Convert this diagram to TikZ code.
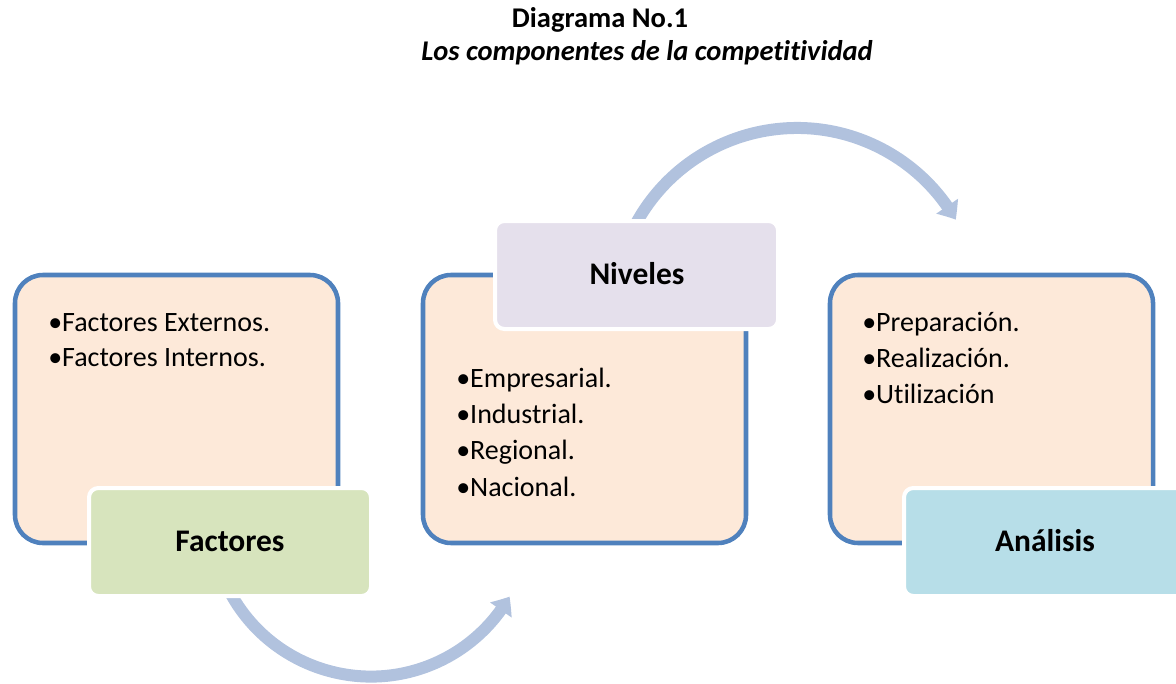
\documentclass[tikz,border=0pt]{standalone}
\usepackage{fontspec}
\setmainfont{Carlito}[RawFeature={-liga}]
\usetikzlibrary{arrows.meta,bending}

\definecolor{frameblue}{HTML}{4F81BD}
\definecolor{peach}{HTML}{FDE9D9}
\definecolor{leafgreen}{HTML}{D7E4BD}
\definecolor{lavender}{HTML}{E5E0EC}
\definecolor{iceblue}{HTML}{B7DEE8}
\definecolor{arcblue}{HTML}{B1C2DE}

\tikzset{
  contentbox/.style={draw=frameblue, fill=peach, line width=3.4pt, rounded corners=21pt},
  labelbox/.style={draw=white, line width=3pt, rounded corners=7pt},
  itemtext/.style={anchor=base west, inner sep=0pt, font=\fontsize{21}{25}\selectfont},
  labeltext/.style={anchor=base, inner sep=0pt, font=\fontsize{23.6}{28}\selectfont\bfseries},
  flowarc/.style={draw=arcblue, line width=9pt, -{Triangle[width=19pt,length=12pt,bend]}},
}

\begin{document}
\begin{tikzpicture}[x=0.75pt, y=-0.75pt]
\useasboundingbox (0,0) rectangle (1176,684);
\clip (0,0) rectangle (1176,684);

% title
\node[anchor=base, inner sep=0pt, font=\fontsize{21.4}{25}\selectfont\bfseries] (title) at (600,28) {Diagrama No.1};
\node[anchor=base, inner sep=0pt, font=\fontsize{21.4}{25}\selectfont\bfseries\itshape] (subtitle) at (647,61) {Los componentes de la competitividad};

% curved connectors, drawn first so the label boxes cover their tails
\coordinate (arcAstart) at (228.4,589.2);
\coordinate (arcBstart) at (633.6,228.1);
\draw[flowarc] (arcAstart) arc[start angle=-153, end angle=-30, radius=120pt];
\draw[flowarc] (arcBstart) arc[start angle=153, end angle=30, radius=137.5pt];

% content boxes
\draw[contentbox] (15,275) rectangle (338,543);
\draw[contentbox] (423,275) rectangle (746,543);
\draw[contentbox] (830,275) rectangle (1153,543);

% label boxes
\path[labelbox, fill=leafgreen] (89,488) rectangle (371,596);
\path[labelbox, fill=lavender] (495,221) rectangle (778,329);
\path[labelbox, fill=iceblue] (904,488) rectangle (1186,596);

\node[labeltext] (factores) at (230,551) {Factores};
\node[labeltext] (niveles) at (637,284) {Niveles};
\node[labeltext] (analisis) at (1045,551) {Análisis};

% bullet items
\node[itemtext] (f1) at (48,331) {•Factores Externos.};
\node[itemtext] (f2) at (48,366) {•Factores Internos.};

\node[itemtext] (n1) at (456,387) {•Empresarial.};
\node[itemtext] (n2) at (456,423) {•Industrial.};
\node[itemtext] (n3) at (456,459.5) {•Regional.};
\node[itemtext] (n4) at (456,496) {•Nacional.};

\node[itemtext] (a1) at (862,331) {•Preparación.};
\node[itemtext] (a2) at (862,367) {•Realización.};
\node[itemtext] (a3) at (862,403) {•Utilización};
\end{tikzpicture}
\end{document}
